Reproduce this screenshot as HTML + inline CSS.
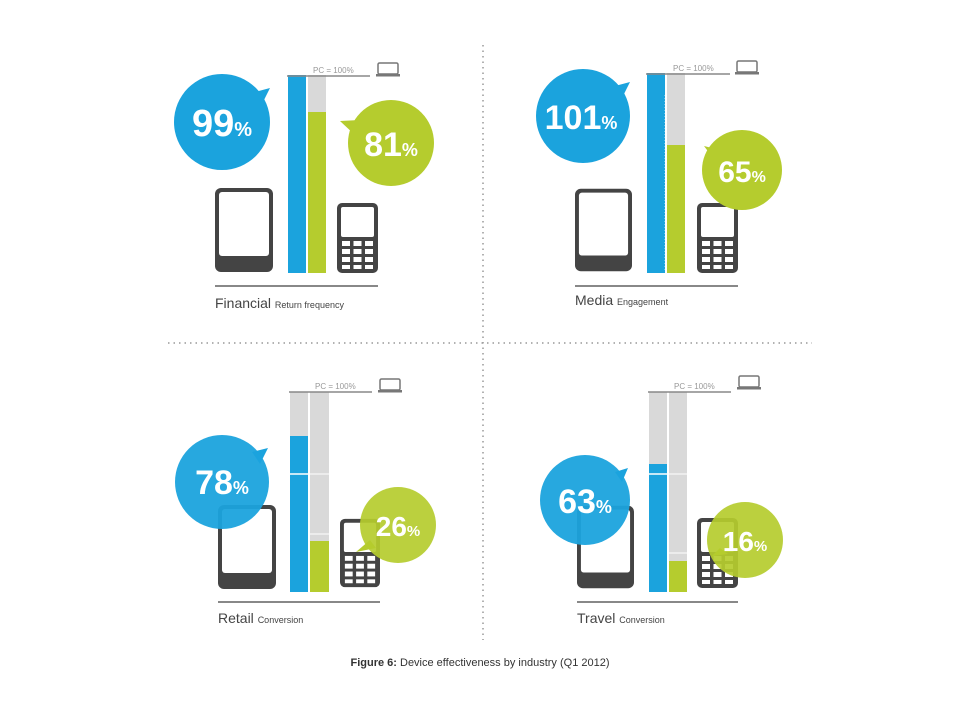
<!DOCTYPE html>
<html><head><meta charset="utf-8"><style>
html,body{margin:0;padding:0;background:#fff}
svg{display:block}
text{font-family:"Liberation Sans",sans-serif}
</style></head><body>
<svg width="960" height="720" viewBox="0 0 960 720" xmlns="http://www.w3.org/2000/svg">
<defs>
<symbol id="tab" viewBox="0 0 58 84"><rect x="0" y="0" width="58" height="84" rx="6" fill="#444"/><rect x="4" y="4" width="50" height="64" rx="3" fill="#fff"/></symbol>
<symbol id="ph" viewBox="0 0 41 70"><rect x="0" y="0" width="41" height="70" rx="5" fill="#444"/><rect x="4" y="4" width="33" height="30" rx="2" fill="#fff"/>
<g fill="#fff"><rect x="5" y="38" width="8" height="5"/><rect x="16.5" y="38" width="8" height="5"/><rect x="28" y="38" width="8" height="5"/>
<rect x="5" y="46" width="8" height="5"/><rect x="16.5" y="46" width="8" height="5"/><rect x="28" y="46" width="8" height="5"/>
<rect x="5" y="54" width="8" height="5"/><rect x="16.5" y="54" width="8" height="5"/><rect x="28" y="54" width="8" height="5"/>
<rect x="5" y="62" width="8" height="4"/><rect x="16.5" y="62" width="8" height="4"/><rect x="28" y="62" width="8" height="4"/></g></symbol>
<symbol id="lap" viewBox="0 0 24 15"><rect x="2" y="1" width="20" height="11" rx="1.5" fill="none" stroke="#777" stroke-width="1.5"/><rect x="0" y="12" width="24" height="2.5" fill="#777"/></symbol>
</defs>
<g stroke="#999" stroke-width="1.5" stroke-dasharray="1.5 4"><line x1="483" y1="45" x2="483" y2="640"/><line x1="168" y1="343" x2="812" y2="343"/></g>

<!-- Financial -->
<rect x="288" y="75" width="18" height="198" fill="#1ba3dd"/>
<rect x="308" y="75" width="18" height="198" fill="#d9d9d9"/>
<rect x="308" y="112" width="18" height="161" fill="#b5cc2e"/>
<line x1="287" y1="76" x2="370" y2="76" stroke="#888" stroke-width="1.5"/>
<text x="313" y="73" font-size="8" fill="#999">PC = 100%</text>
<use href="#lap" x="376" y="62" width="24" height="15"/>
<use href="#tab" x="215" y="188" width="58" height="84"/>
<use href="#ph" x="337" y="203" width="41" height="70"/>
<line x1="215" y1="286" x2="378" y2="286" stroke="#888" stroke-width="2"/>
<text x="215" y="308" font-size="14" fill="#444">Financial <tspan font-size="9">Return frequency</tspan></text>
<path d="M255 92 L270 88 L262 104 Z" fill="#1ba3dd"/>
<circle cx="222" cy="122" r="48" fill="#1ba3dd"/>
<text x="222" y="136" font-size="38" font-weight="bold" fill="#fff" text-anchor="middle">99<tspan font-size="20">%</tspan></text>
<path d="M360 120 L340 121 L356 136 Z" fill="#b5cc2e"/>
<circle cx="391" cy="143" r="43" fill="#b5cc2e"/>
<text x="391" y="156" font-size="34" font-weight="bold" fill="#fff" text-anchor="middle">81<tspan font-size="18">%</tspan></text>

<!-- Media -->
<rect x="647" y="73" width="18" height="200" fill="#1ba3dd"/>
<g stroke="#fff" stroke-width="1" stroke-dasharray="1 2" opacity="0.7"><line x1="665" y1="95" x2="665" y2="270"/></g>
<rect x="667" y="73" width="18" height="200" fill="#d9d9d9"/>
<rect x="667" y="145" width="18" height="128" fill="#b5cc2e"/>
<line x1="646" y1="74" x2="730" y2="74" stroke="#888" stroke-width="1.5"/>
<text x="673" y="71" font-size="8" fill="#999">PC = 100%</text>
<use href="#lap" x="735" y="60" width="24" height="15"/>
<use href="#tab" x="575" y="188" width="57" height="84"/>
<use href="#ph" x="697" y="203" width="41" height="70"/>
<line x1="575" y1="286" x2="738" y2="286" stroke="#888" stroke-width="2"/>
<text x="575" y="305" font-size="14" fill="#444">Media <tspan font-size="9">Engagement</tspan></text>
<path d="M615 86 L630 82 L622 98 Z" fill="#1ba3dd"/>
<circle cx="583" cy="116" r="47" fill="#1ba3dd"/>
<text x="581" y="129" font-size="34" font-weight="bold" fill="#fff" text-anchor="middle">101<tspan font-size="18">%</tspan></text>
<path d="M712 148 L704 146 L716 162 Z" fill="#b5cc2e"/>
<circle cx="742" cy="170" r="40" fill="#b5cc2e"/>
<text x="742" y="182" font-size="30" font-weight="bold" fill="#fff" text-anchor="middle">65<tspan font-size="16">%</tspan></text>

<!-- Retail -->
<rect x="290" y="392" width="18" height="200" fill="#d9d9d9"/>
<rect x="290" y="436" width="18" height="156" fill="#1ba3dd"/>
<line x1="290" y1="474" x2="308" y2="474" stroke="#fff" stroke-width="1.5"/>
<rect x="310" y="392" width="19" height="200" fill="#d9d9d9"/>
<line x1="310" y1="474" x2="329" y2="474" stroke="#fff" stroke-width="1"/>
<line x1="310" y1="534" x2="329" y2="534" stroke="#fff" stroke-width="1"/>
<rect x="310" y="541" width="19" height="51" fill="#b5cc2e"/>
<line x1="289" y1="392" x2="372" y2="392" stroke="#888" stroke-width="1.5"/>
<text x="315" y="389" font-size="8" fill="#999">PC = 100%</text>
<use href="#lap" x="378" y="378" width="24" height="15"/>
<use href="#tab" x="218" y="505" width="58" height="84"/>
<use href="#ph" x="340" y="518" width="40" height="70"/>
<line x1="218" y1="602" x2="380" y2="602" stroke="#888" stroke-width="2"/>
<text x="218" y="623" font-size="14" fill="#444">Retail <tspan font-size="9">Conversion</tspan></text>
<path d="M252 452 L268 448 L260 464 Z" fill="#1ba3dd"/>
<circle cx="222" cy="482" r="47" fill="#1ba3dd" opacity="0.95"/>
<text x="222" y="494" font-size="34" font-weight="bold" fill="#fff" text-anchor="middle">78<tspan font-size="18">%</tspan></text>
<path d="M370 540 L356 552 L376 548 Z" fill="#b5cc2e"/>
<circle cx="398" cy="525" r="38" fill="#b5cc2e" opacity="0.92"/>
<text x="398" y="536" font-size="28" font-weight="bold" fill="#fff" text-anchor="middle">26<tspan font-size="15">%</tspan></text>

<!-- Travel -->
<rect x="649" y="392" width="18" height="200" fill="#d9d9d9"/>
<rect x="649" y="464" width="18" height="128" fill="#1ba3dd"/>
<line x1="649" y1="474" x2="667" y2="474" stroke="#fff" stroke-width="1.5"/>
<rect x="669" y="392" width="18" height="200" fill="#d9d9d9"/>
<line x1="669" y1="474" x2="687" y2="474" stroke="#fff" stroke-width="1"/>
<line x1="669" y1="553" x2="687" y2="553" stroke="#fff" stroke-width="1"/>
<rect x="669" y="561" width="18" height="31" fill="#b5cc2e"/>
<line x1="648" y1="392" x2="731" y2="392" stroke="#888" stroke-width="1.5"/>
<text x="674" y="389" font-size="8" fill="#999">PC = 100%</text>
<use href="#lap" x="737" y="375" width="24" height="15"/>
<use href="#tab" x="577" y="505" width="57" height="84"/>
<use href="#ph" x="697" y="518" width="41" height="70"/>
<line x1="577" y1="602" x2="738" y2="602" stroke="#888" stroke-width="2"/>
<text x="577" y="623" font-size="14" fill="#444">Travel <tspan font-size="9">Conversion</tspan></text>
<path d="M615 472 L628 468 L622 482 Z" fill="#1ba3dd"/>
<circle cx="585" cy="500" r="45" fill="#1ba3dd" opacity="0.95"/>
<text x="585" y="513" font-size="34" font-weight="bold" fill="#fff" text-anchor="middle">63<tspan font-size="18">%</tspan></text>
<path d="M720 548 L712 556 L728 554 Z" fill="#b5cc2e"/>
<circle cx="745" cy="540" r="38" fill="#b5cc2e" opacity="0.92"/>
<text x="745" y="551" font-size="28" font-weight="bold" fill="#fff" text-anchor="middle">16<tspan font-size="15">%</tspan></text>

<text x="480" y="666" font-size="11" fill="#333" text-anchor="middle"><tspan font-weight="bold">Figure 6:</tspan> Device effectiveness by industry (Q1 2012)</text>
</svg>
</body></html>
